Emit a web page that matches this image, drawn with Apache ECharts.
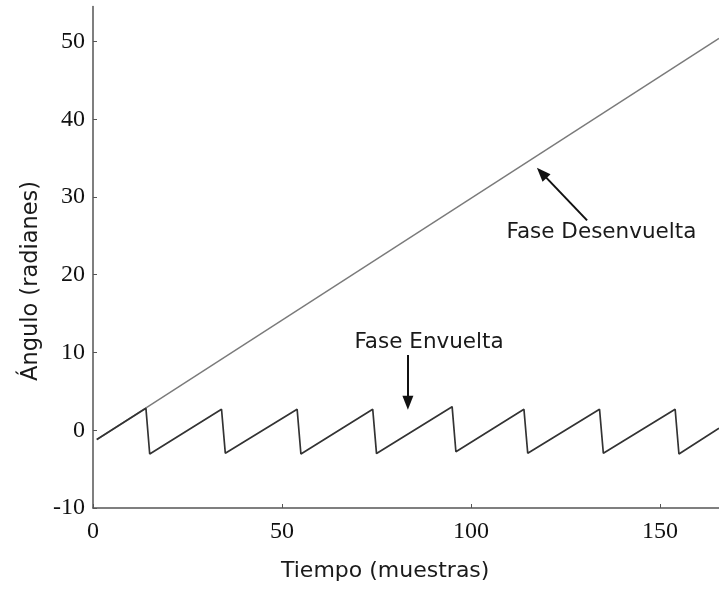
<!DOCTYPE html>
<html><head><meta charset="utf-8">
<script src="https://cdn.jsdelivr.net/npm/echarts@6/dist/echarts.min.js"></script>
<style>html,body{margin:0;padding:0;background:#fff}#c{width:719px;height:590px}</style>
</head><body><div id="c"></div>
<script>
// Tick labels
const xTicks = [0, 50, 100, 150];
const yTicks = [-10, 0, 10, 20, 30, 40, 50];
// Unwrapped phase (straight line) - read endpoints
const unwrappedX = [1, 165.6];
const unwrappedY = [-1.2, 50.4];
// Wrapped phase vertices (peaks / troughs)
const wrappedX = [1, 14, 15, 34, 35, 54, 55, 74, 75, 95, 96, 114, 115, 134, 135, 154, 155, 165.6];
const wrappedY = [-1.2, 2.83, -3.05, 2.7, -2.96, 2.7, -3.05, 2.7, -3.0, 3.03, -2.76, 2.7, -2.96, 2.7, -2.96, 2.7, -3.05, 0.25];
// Annotations
const annoText = ['Fase Desenvuelta', 'Fase Envuelta'];
const annoTextAt = [[134.5, 25.5], [88.9, 11.35]];
const arrowFrom = [[130.7, 27.0], [83.3, 9.68]];
const arrowTo = [[118.7, 33.1], [83.3, 3.55]];

const zip = (a, b) => a.map((v, i) => [v, b[i]]);
const axisCol = '#555';
const chart = echarts.init(document.getElementById('c'), null, {renderer: 'canvas'});
chart.setOption({
  animation: false,
  backgroundColor: '#fff',
  grid: {left: 93, right: 0, top: 6.5, bottom: 82},
  xAxis: {
    type: 'value', min: 0, max: 165.6,
    axisLine: {show: true, onZero: false, lineStyle: {color: axisCol, width: 1.5}},
    axisTick: {show: true, inside: true, length: 4, customValues: xTicks, lineStyle: {color: axisCol}},
    axisLabel: {customValues: xTicks, margin: 12, color: '#111', fontFamily: 'Liberation Serif', fontSize: 24},
    splitLine: {show: false}
  },
  yAxis: {
    type: 'value', min: -10, max: 54.5,
    axisLine: {show: true, onZero: false, lineStyle: {color: axisCol, width: 1.5}},
    axisTick: {show: true, inside: true, length: 4, customValues: yTicks, lineStyle: {color: axisCol}},
    axisLabel: {customValues: yTicks, margin: 8, color: '#111', fontFamily: 'Liberation Serif', fontSize: 24},
    splitLine: {show: false}
  },
  graphic: [
    {type: 'text', left: 281, top: 560, style: {text: 'Tiempo (muestras)', font: '22px "DejaVu Sans"', fill: '#1a1a1a'}},
    {type: 'text', x: 20, y: 381, rotation: Math.PI / 2, style: {text: 'Ángulo (radianes)', font: '22.5px "DejaVu Sans"', fill: '#1a1a1a', align: 'left', verticalAlign: 'top'}}
  ],
  series: [
    {
      type: 'line', data: zip(unwrappedX, unwrappedY), showSymbol: false, silent: true,
      lineStyle: {color: '#7a7a7a', width: 1.4}
    },
    {
      type: 'line', data: zip(wrappedX, wrappedY), showSymbol: false, silent: true,
      lineStyle: {color: '#333', width: 1.7},
      markLine: {
        silent: true, symbol: ['none', 'triangle'], symbolSize: [11, 14],
        lineStyle: {color: '#111', width: 2, type: 'solid'},
        label: {show: false},
        data: arrowFrom.map((f, i) => [{coord: f}, {coord: arrowTo[i]}])
      },
      markPoint: {
        silent: true, symbol: 'circle', symbolSize: 0,
        label: {show: true, position: 'inside', color: '#1a1a1a', fontFamily: 'DejaVu Sans', fontSize: 21.5,
          formatter: p => p.name},
        data: annoText.map((t, i) => ({name: t, coord: annoTextAt[i]}))
      }
    }
  ]
});
</script></body></html>
